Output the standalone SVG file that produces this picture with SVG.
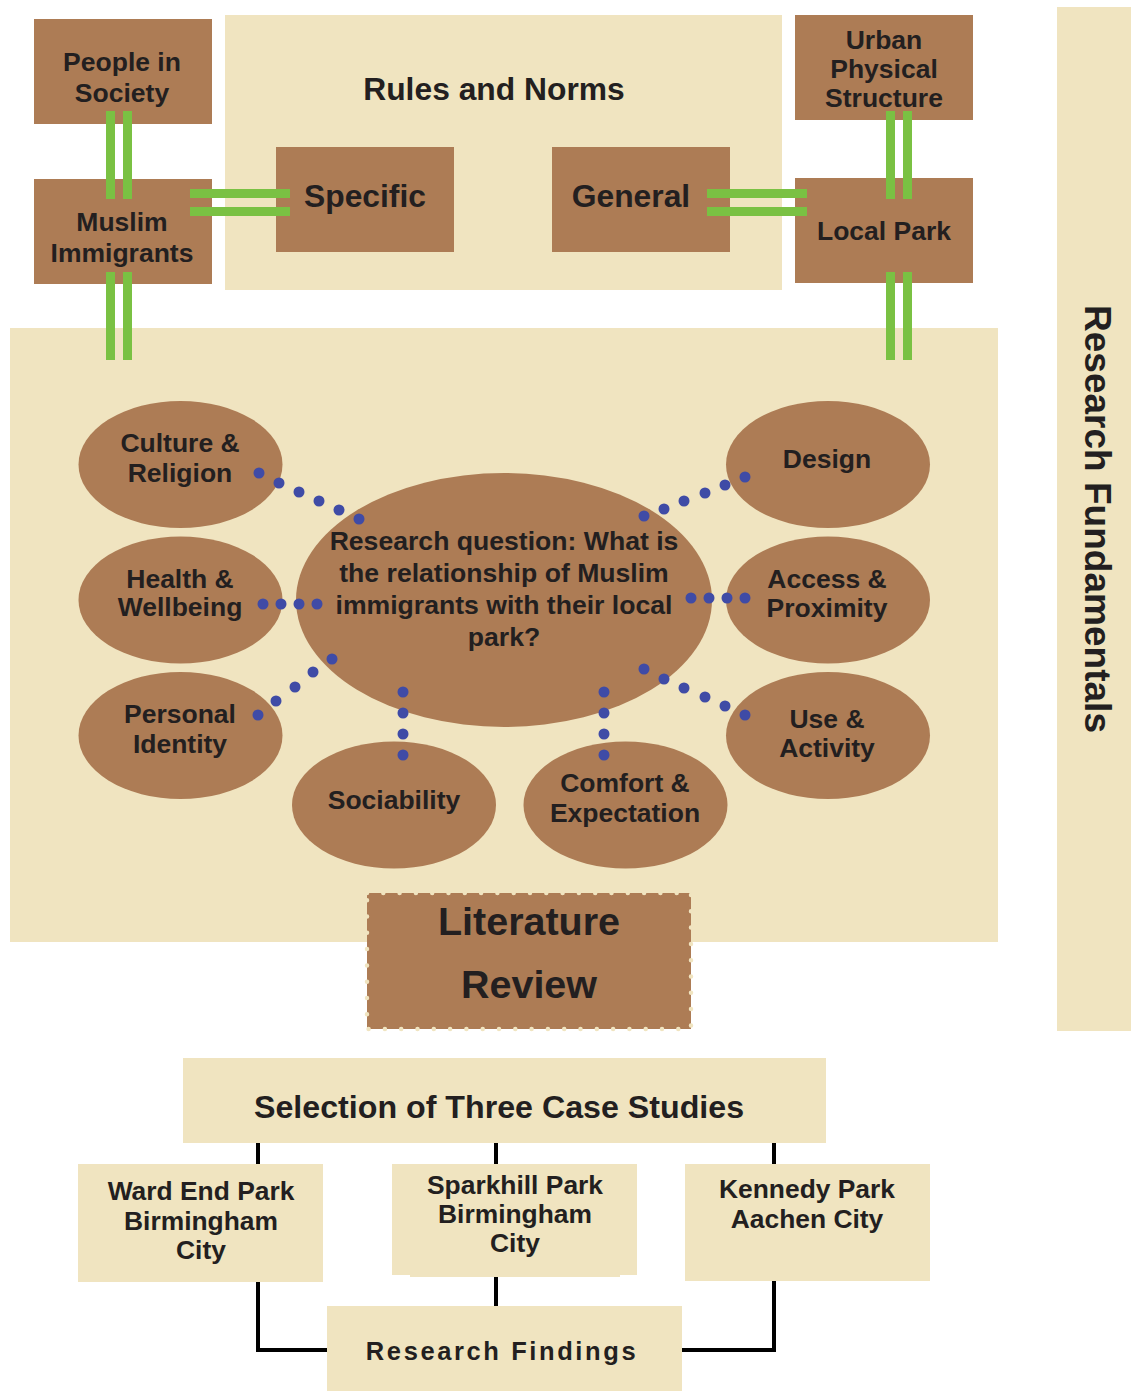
<svg xmlns="http://www.w3.org/2000/svg" width="1131" height="1391" viewBox="0 0 1131 1391">
  <style>
    .cream { fill: #F0E4C0; }
    .brown { fill: #AD7C55; }
    .bar { fill: #7AC143; }
    .dot { fill: #3F4BA6; }
    .wire { fill: none; stroke: #000; stroke-width: 4; }
    text { font-family: "Liberation Sans", Arial, Helvetica, sans-serif; font-weight: bold; fill: #231F20; text-anchor: middle; }
    .t26 { font-size: 26.5px; }
    .t31 { font-size: 31.8px; }
    .tq { font-size: 26.6px; }
    .tc { font-size: 26.4px; }
  </style>

  <rect width="1131" height="1391" fill="#FFFFFF"/>

  <!-- background panels -->
  <g id="panels">
    <rect class="cream" x="225" y="15" width="557" height="275"/>
    <rect class="cream" x="10" y="328" width="988" height="614"/>
  </g>

  <!-- Research Fundamentals side bar -->
  <g id="research-fundamentals">
    <rect class="cream" x="1057" y="7" width="74" height="1024"/>
    <text transform="translate(1085 519) rotate(90)" style="font-size:36.5px" textLength="428" lengthAdjust="spacingAndGlyphs">Research Fundamentals</text>
  </g>

  <!-- Rules and Norms -->
  <g id="rules-and-norms">
    <text class="t31" x="494" y="100">Rules and Norms</text>
  </g>

  <g id="people-in-society">
    <rect class="brown" x="34" y="19" width="178" height="105"/>
    <text class="t26" x="122" y="71">People in</text>
    <text class="t26" x="122" y="102">Society</text>
  </g>

  <g id="muslim-immigrants">
    <rect class="brown" x="34" y="179" width="178" height="105"/>
    <text class="t26" x="122" y="231">Muslim</text>
    <text class="t26" x="122" y="262">Immigrants</text>
  </g>

  <g id="specific">
    <rect class="brown" x="276" y="147" width="178" height="105"/>
    <text class="t31" x="365" y="207">Specific</text>
  </g>

  <g id="general">
    <rect class="brown" x="552" y="147" width="178" height="105"/>
    <text class="t31" x="631" y="207">General</text>
  </g>

  <g id="urban-physical-structure">
    <rect class="brown" x="795" y="15" width="178" height="105"/>
    <text class="t26" x="884" y="49">Urban</text>
    <text class="t26" x="884" y="78">Physical</text>
    <text class="t26" x="884" y="107">Structure</text>
  </g>

  <g id="local-park">
    <rect class="brown" x="795" y="178" width="178" height="105"/>
    <text class="t26" x="884" y="240">Local Park</text>
  </g>

  <!-- literature review themes -->
  <g id="research-question">
    <ellipse class="brown" cx="504" cy="600" rx="208" ry="127"/>
    <text class="tq" x="504" y="550">Research question: What is</text>
    <text class="tq" x="504" y="582">the relationship of Muslim</text>
    <text class="tq" x="504" y="614">immigrants with their local</text>
    <text class="tq" x="504" y="646">park?</text>
  </g>

  <g id="culture-religion">
    <ellipse class="brown" cx="180.5" cy="464.5" rx="102" ry="63.5"/>
    <text class="t26" x="180" y="452">Culture &amp;</text>
    <text class="t26" x="180" y="482">Religion</text>
  </g>

  <g id="health-wellbeing">
    <ellipse class="brown" cx="180.5" cy="600" rx="102" ry="63.5"/>
    <text class="t26" x="180" y="588">Health &amp;</text>
    <text class="t26" x="180" y="616">Wellbeing</text>
  </g>

  <g id="personal-identity">
    <ellipse class="brown" cx="180.5" cy="735.5" rx="102" ry="63.5"/>
    <text class="t26" x="180" y="723">Personal</text>
    <text class="t26" x="180" y="753">Identity</text>
  </g>

  <g id="sociability">
    <ellipse class="brown" cx="394" cy="805" rx="102" ry="63.5"/>
    <text class="t26" x="394" y="809">Sociability</text>
  </g>

  <g id="comfort-expectation">
    <ellipse class="brown" cx="625.5" cy="805" rx="102" ry="63.5"/>
    <text class="t26" x="625" y="792">Comfort &amp;</text>
    <text class="t26" x="625" y="822">Expectation</text>
  </g>

  <g id="design">
    <ellipse class="brown" cx="828" cy="464.5" rx="102" ry="63.5"/>
    <text class="t26" x="827" y="468">Design</text>
  </g>

  <g id="access-proximity">
    <ellipse class="brown" cx="828" cy="600" rx="102" ry="63.5"/>
    <text class="t26" x="827" y="588">Access &amp;</text>
    <text class="t26" x="827" y="617">Proximity</text>
  </g>

  <g id="use-activity">
    <ellipse class="brown" cx="828" cy="735.5" rx="102" ry="63.5"/>
    <text class="t26" x="827" y="728">Use &amp;</text>
    <text class="t26" x="827" y="757">Activity</text>
  </g>

  <g id="literature-review">
    <rect class="brown" x="367" y="893" width="324" height="136" stroke="#F0E4C0" stroke-width="4.5" stroke-linecap="round" stroke-dasharray="0 16.3"/>
    <text x="529" y="935" style="font-size:39.5px">Literature</text>
    <text x="529" y="998" style="font-size:39.5px">Review</text>
  </g>

  <!-- case studies -->
  <g id="selection-case-studies">
    <rect class="cream" x="183" y="1058" width="643" height="85"/>
    <text x="499" y="1118" style="font-size:32.2px">Selection of Three Case Studies</text>
  </g>

  <g id="ward-end-park">
    <rect class="cream" x="78" y="1164" width="245" height="118"/>
    <text class="tc" x="201" y="1200">Ward End Park</text>
    <text class="tc" x="201" y="1230">Birmingham</text>
    <text class="tc" x="201" y="1259">City</text>
  </g>

  <g id="sparkhill-park">
    <rect class="cream" x="392" y="1164" width="245" height="111"/>
    <rect class="cream" x="410" y="1274" width="210" height="3"/>
    <text class="tc" x="515" y="1194">Sparkhill Park</text>
    <text class="tc" x="515" y="1223">Birmingham</text>
    <text class="tc" x="515" y="1252">City</text>
  </g>

  <g id="kennedy-park">
    <rect class="cream" x="685" y="1164" width="245" height="117"/>
    <text class="tc" x="807" y="1198">Kennedy Park</text>
    <text class="tc" x="807" y="1228">Aachen City</text>
  </g>

  <g id="research-findings">
    <rect class="cream" x="327" y="1306" width="355" height="85"/>
    <text x="502" y="1360" style="font-size:25.5px; letter-spacing:2.6px">Research Findings</text>
  </g>

  <!-- connectors -->
  <g id="connectors">
    <!-- double green links -->
    <rect class="bar" x="106" y="111" width="9" height="88"/>
    <rect class="bar" x="123" y="111" width="9" height="88"/>
    <rect class="bar" x="106" y="272" width="9" height="88"/>
    <rect class="bar" x="123" y="272" width="9" height="88"/>
    <rect class="bar" x="886" y="111" width="9" height="88"/>
    <rect class="bar" x="903" y="111" width="9" height="88"/>
    <rect class="bar" x="886" y="272" width="9" height="88"/>
    <rect class="bar" x="903" y="272" width="9" height="88"/>
    <rect class="bar" x="190" y="189" width="100" height="9"/>
    <rect class="bar" x="190" y="207" width="100" height="9"/>
    <rect class="bar" x="707" y="189" width="100" height="9"/>
    <rect class="bar" x="707" y="207" width="100" height="9"/>

    <!-- dotted links from the research question -->
    <g class="dot">
      <circle cx="259" cy="473" r="5.5"/><circle cx="279" cy="483" r="5.5"/><circle cx="299" cy="492" r="5.5"/>
      <circle cx="319" cy="501" r="5.5"/><circle cx="339" cy="510" r="5.5"/><circle cx="359" cy="519" r="5.5"/>

      <circle cx="644" cy="516" r="5.5"/><circle cx="664" cy="509" r="5.5"/><circle cx="684" cy="501" r="5.5"/>
      <circle cx="705" cy="493" r="5.5"/><circle cx="725" cy="485" r="5.5"/><circle cx="745" cy="477" r="5.5"/>

      <circle cx="263" cy="604" r="5.5"/><circle cx="281" cy="604" r="5.5"/><circle cx="299" cy="604" r="5.5"/><circle cx="317" cy="604" r="5.5"/>

      <circle cx="691" cy="598" r="5.5"/><circle cx="709" cy="598" r="5.5"/><circle cx="727" cy="598" r="5.5"/><circle cx="745" cy="598" r="5.5"/>

      <circle cx="332" cy="659" r="5.5"/><circle cx="313" cy="672" r="5.5"/><circle cx="295" cy="687" r="5.5"/>
      <circle cx="276" cy="701" r="5.5"/><circle cx="258" cy="715" r="5.5"/>

      <circle cx="403" cy="692" r="5.5"/><circle cx="403" cy="713" r="5.5"/><circle cx="403" cy="734" r="5.5"/><circle cx="403" cy="755" r="5.5"/>

      <circle cx="604" cy="692" r="5.5"/><circle cx="604" cy="713" r="5.5"/><circle cx="604" cy="734" r="5.5"/><circle cx="604" cy="755" r="5.5"/>

      <circle cx="644" cy="669" r="5.5"/><circle cx="664" cy="679" r="5.5"/><circle cx="684" cy="688" r="5.5"/>
      <circle cx="705" cy="697" r="5.5"/><circle cx="725" cy="706" r="5.5"/><circle cx="745" cy="715" r="5.5"/>
    </g>

    <!-- case study flow -->
    <path class="wire" d="M258 1143 V1164 M496 1143 V1164 M774 1143 V1164"/>
    <path class="wire" d="M258 1282 V1350 H327 M496 1277 V1306 M774 1281 V1350 H682"/>
  </g>
</svg>
